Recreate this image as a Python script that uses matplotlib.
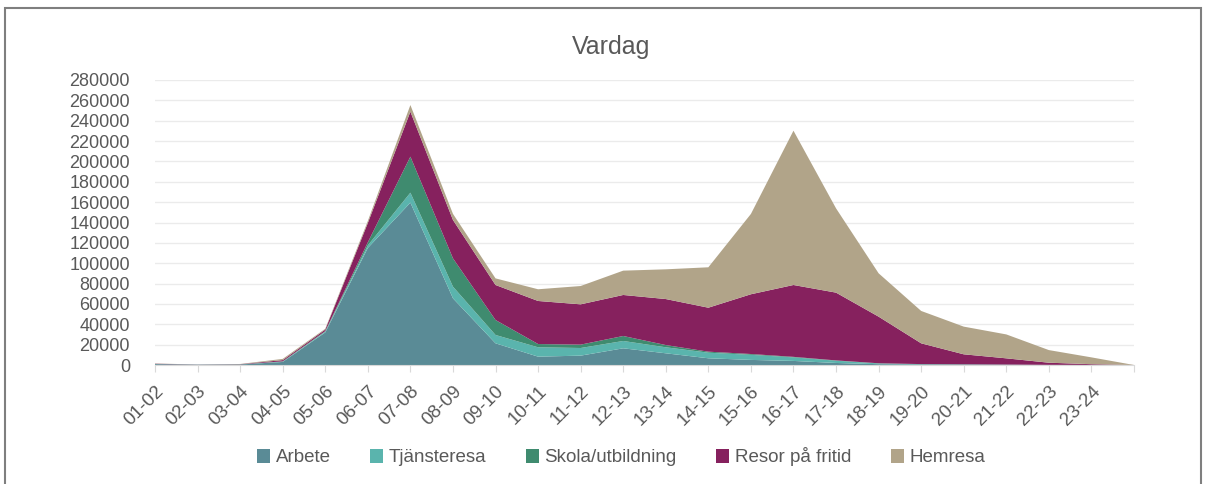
import numpy as np
import matplotlib
matplotlib.use("Agg")
import matplotlib.pyplot as plt
from matplotlib.patches import Rectangle, Patch

# Hour intervals (the last point has no label)
hours = ["01-02", "02-03", "03-04", "04-05", "05-06", "06-07", "07-08", "08-09",
         "09-10", "10-11", "11-12", "12-13", "13-14", "14-15", "15-16", "16-17",
         "17-18", "18-19", "19-20", "20-21", "21-22", "22-23", "23-24", ""]

arbete = [800, 300, 500, 3000, 32000, 115000, 159500, 65500, 21300, 8200, 9200, 16400,
          11500, 6600, 5000, 4000, 2000, 800, 500, 400, 300, 100, 100, 0]
tjansteresa = [100, 50, 50, 300, 800, 2500, 9800, 11500, 8200, 9200, 7500, 7200,
               5900, 5500, 5000, 3500, 2200, 700, 300, 200, 100, 50, 0, 0]
skola = [50, 20, 50, 300, 500, 3000, 35400, 27800, 14700, 3200, 3300, 4900,
         2200, 1000, 800, 500, 300, 200, 100, 100, 50, 0, 0, 0]
fritid = [300, 100, 200, 1200, 1500, 19000, 44200, 37700, 34400, 42300, 39600, 40300,
          45200, 43200, 58700, 70600, 66600, 45800, 20400, 9800, 6100, 2100, 700, 0]
hemresa = [250, 30, 200, 1200, 800, 2000, 6500, 6000, 6500, 11500, 18000, 23900,
           29200, 39700, 78900, 151600, 82800, 42600, 31800, 27200, 23500, 12400, 6700, 0]

series = ["Arbete", "Tjänsteresa", "Skola/utbildning", "Resor på fritid", "Hemresa"]
colors = ["#5a8b96", "#5ab4ad", "#3f8b6f", "#86215e", "#b1a489"]

plt.rcParams["font.family"] = ["Liberation Sans", "DejaVu Sans"]
text_color = "#595959"

W, H = 1205, 484
fig = plt.figure(figsize=(W / 100, H / 100), dpi=100)

# chart frame
fig.patches.append(Rectangle((5 / W, -0.1), 1196 / W, 1.1 - 8 / H, transform=fig.transFigure,
                             fill=False, edgecolor="#7f7f7f", linewidth=1.5))

ax = fig.add_axes([155 / W, (H - 365) / H, (1134 - 155) / W, (365 - 80) / H])

x = np.arange(len(hours))
ax.stackplot(x, arbete, tjansteresa, skola, fritid, hemresa,
             colors=colors, labels=series, linewidth=0)

ax.set_xlim(0, len(hours) - 1)
ax.set_ylim(0, 280000)
ax.set_yticks(np.arange(0, 280001, 20000))
ax.yaxis.grid(True, color="#ebebeb", linewidth=1)
ax.set_axisbelow(True)

for s in ["top", "right", "left"]:
    ax.spines[s].set_visible(False)
ax.spines["bottom"].set_color("#d9d9d9")
ax.spines["bottom"].set_zorder(5)

ax.set_xticks(x)
ax.set_xticklabels(hours, rotation=45, ha="right", rotation_mode="anchor")
ax.tick_params(axis="x", length=5, color="#d9d9d9", labelsize=13.5, labelcolor=text_color, pad=8)
ax.tick_params(axis="y", length=0, labelsize=13, labelcolor=text_color, pad=18)

fig.text(611 / W, 1 - 47 / H, "Vardag", ha="center", va="center", fontsize=18, color=text_color)

handles = [Patch(facecolor=c, edgecolor="none") for c in colors]
fig.legend(handles, series, loc="center", bbox_to_anchor=(621 / W, 1 - 457 / H), ncol=5,
           frameon=False, fontsize=13.5, labelcolor=text_color, handlelength=0.7,
           handleheight=0.7, handletextpad=0.3, columnspacing=2.1)

fig.savefig("out.png", dpi=100)
